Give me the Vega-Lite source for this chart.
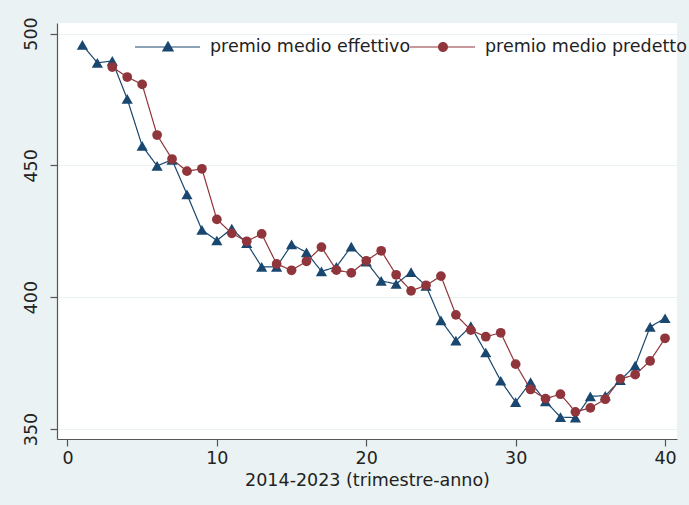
{
  "$schema": "https://vega.github.io/schema/vega-lite/v6.json",
  "width": 620,
  "height": 416,
  "autosize": {"type": "none"},
  "padding": {"left": 57, "top": 23, "right": 12, "bottom": 66},
  "background": "#EAF2F3",
  "config": {
    "view": {"fill": "white", "stroke": null},
    "font": "DejaVu Sans",
    "axis": {
      "labelFont": "DejaVu Sans",
      "titleFont": "DejaVu Sans",
      "labelFontSize": 17.5,
      "titleFontSize": 17.5,
      "titleFontWeight": "normal",
      "labelColor": "#222222",
      "titleColor": "#222222",
      "domainColor": "#555555",
      "tickColor": "#555555",
      "tickSize": 7,
      "domainWidth": 1.2,
      "tickWidth": 1.2
    },
    "legend": {
      "labelFont": "DejaVu Sans",
      "labelFontSize": 17.5,
      "labelColor": "#222222",
      "labelOffset": 32,
      "labelLimit": 400,
      "symbolSize": 400,
      "symbolStrokeWidth": 0,
      "symbolOpacity": 1
    }
  },
  "data": {
    "values": [
      {"t": 1, "v": 495.7, "serie": "premio medio effettivo"},
      {"t": 2, "v": 488.9, "serie": "premio medio effettivo"},
      {"t": 3, "v": 489.6, "serie": "premio medio effettivo"},
      {"t": 4, "v": 475.2, "serie": "premio medio effettivo"},
      {"t": 5, "v": 457.4, "serie": "premio medio effettivo"},
      {"t": 6, "v": 449.8, "serie": "premio medio effettivo"},
      {"t": 7, "v": 452.1, "serie": "premio medio effettivo"},
      {"t": 8, "v": 439.0, "serie": "premio medio effettivo"},
      {"t": 9, "v": 425.5, "serie": "premio medio effettivo"},
      {"t": 10, "v": 421.5, "serie": "premio medio effettivo"},
      {"t": 11, "v": 426.0, "serie": "premio medio effettivo"},
      {"t": 12, "v": 420.5, "serie": "premio medio effettivo"},
      {"t": 13, "v": 411.5, "serie": "premio medio effettivo"},
      {"t": 14, "v": 411.5, "serie": "premio medio effettivo"},
      {"t": 15, "v": 420.0, "serie": "premio medio effettivo"},
      {"t": 16, "v": 417.0, "serie": "premio medio effettivo"},
      {"t": 17, "v": 409.8, "serie": "premio medio effettivo"},
      {"t": 18, "v": 411.5, "serie": "premio medio effettivo"},
      {"t": 19, "v": 419.2, "serie": "premio medio effettivo"},
      {"t": 20, "v": 413.5, "serie": "premio medio effettivo"},
      {"t": 21, "v": 406.2, "serie": "premio medio effettivo"},
      {"t": 22, "v": 405.0, "serie": "premio medio effettivo"},
      {"t": 23, "v": 409.5, "serie": "premio medio effettivo"},
      {"t": 24, "v": 404.3, "serie": "premio medio effettivo"},
      {"t": 25, "v": 391.2, "serie": "premio medio effettivo"},
      {"t": 26, "v": 383.5, "serie": "premio medio effettivo"},
      {"t": 27, "v": 389.0, "serie": "premio medio effettivo"},
      {"t": 28, "v": 379.0, "serie": "premio medio effettivo"},
      {"t": 29, "v": 368.3, "serie": "premio medio effettivo"},
      {"t": 30, "v": 360.2, "serie": "premio medio effettivo"},
      {"t": 31, "v": 367.8, "serie": "premio medio effettivo"},
      {"t": 32, "v": 360.5, "serie": "premio medio effettivo"},
      {"t": 33, "v": 354.5, "serie": "premio medio effettivo"},
      {"t": 34, "v": 354.3, "serie": "premio medio effettivo"},
      {"t": 35, "v": 362.4, "serie": "premio medio effettivo"},
      {"t": 36, "v": 362.6, "serie": "premio medio effettivo"},
      {"t": 37, "v": 368.5, "serie": "premio medio effettivo"},
      {"t": 38, "v": 374.0, "serie": "premio medio effettivo"},
      {"t": 39, "v": 388.7, "serie": "premio medio effettivo"},
      {"t": 40, "v": 392.0, "serie": "premio medio effettivo"},
      {"t": 3, "v": 487.3, "serie": "premio medio predetto"},
      {"t": 4, "v": 483.5, "serie": "premio medio predetto"},
      {"t": 5, "v": 480.7, "serie": "premio medio predetto"},
      {"t": 6, "v": 461.5, "serie": "premio medio predetto"},
      {"t": 7, "v": 452.4, "serie": "premio medio predetto"},
      {"t": 8, "v": 447.8, "serie": "premio medio predetto"},
      {"t": 9, "v": 448.7, "serie": "premio medio predetto"},
      {"t": 10, "v": 429.5, "serie": "premio medio predetto"},
      {"t": 11, "v": 424.2, "serie": "premio medio predetto"},
      {"t": 12, "v": 421.2, "serie": "premio medio predetto"},
      {"t": 13, "v": 424.0, "serie": "premio medio predetto"},
      {"t": 14, "v": 412.6, "serie": "premio medio predetto"},
      {"t": 15, "v": 410.2, "serie": "premio medio predetto"},
      {"t": 16, "v": 413.6, "serie": "premio medio predetto"},
      {"t": 17, "v": 419.0, "serie": "premio medio predetto"},
      {"t": 18, "v": 410.3, "serie": "premio medio predetto"},
      {"t": 19, "v": 409.2, "serie": "premio medio predetto"},
      {"t": 20, "v": 413.8, "serie": "premio medio predetto"},
      {"t": 21, "v": 417.6, "serie": "premio medio predetto"},
      {"t": 22, "v": 408.5, "serie": "premio medio predetto"},
      {"t": 23, "v": 402.4, "serie": "premio medio predetto"},
      {"t": 24, "v": 404.5, "serie": "premio medio predetto"},
      {"t": 25, "v": 408.0, "serie": "premio medio predetto"},
      {"t": 26, "v": 393.3, "serie": "premio medio predetto"},
      {"t": 27, "v": 387.5, "serie": "premio medio predetto"},
      {"t": 28, "v": 385.0, "serie": "premio medio predetto"},
      {"t": 29, "v": 386.5, "serie": "premio medio predetto"},
      {"t": 30, "v": 374.6, "serie": "premio medio predetto"},
      {"t": 31, "v": 365.0, "serie": "premio medio predetto"},
      {"t": 32, "v": 361.5, "serie": "premio medio predetto"},
      {"t": 33, "v": 363.2, "serie": "premio medio predetto"},
      {"t": 34, "v": 356.5, "serie": "premio medio predetto"},
      {"t": 35, "v": 358.0, "serie": "premio medio predetto"},
      {"t": 36, "v": 361.3, "serie": "premio medio predetto"},
      {"t": 37, "v": 369.0, "serie": "premio medio predetto"},
      {"t": 38, "v": 370.6, "serie": "premio medio predetto"},
      {"t": 39, "v": 375.8, "serie": "premio medio predetto"},
      {"t": 40, "v": 384.4, "serie": "premio medio predetto"}
    ]
  },
  "encoding": {
    "x": {
      "field": "t",
      "type": "quantitative",
      "scale": {"domain": [-0.7, 40.8], "nice": false, "zero": false},
      "axis": {
        "values": [0, 10, 20, 30, 40],
        "title": "2014-2023 (trimestre-anno)",
        "grid": false,
        "labelPadding": 3,
        "titlePadding": 5
      }
    },
    "y": {
      "field": "v",
      "type": "quantitative",
      "scale": {"domain": [346.2, 504], "nice": false, "zero": false},
      "axis": {
        "values": [350, 400, 450, 500],
        "title": null,
        "grid": true,
        "gridColor": "#EAF2F3",
        "gridWidth": 1.2,
        "labelAngle": -90,
        "labelAlign": "center",
        "labelBaseline": "bottom",
        "labelPadding": 10
      }
    }
  },
  "layer": [
    {
      "mark": {"type": "line", "strokeWidth": 1.2},
      "encoding": {
        "color": {
          "field": "serie",
          "type": "nominal",
          "scale": {"domain": ["premio medio effettivo", "premio medio predetto"], "range": ["#1A476F", "#90353B"]},
          "legend": {
            "title": null,
            "orient": "none",
            "legendX": 101,
            "legendY": 14,
            "values": ["premio medio effettivo"],
            "symbolType": "M-3.3,-0.06L3.2,-0.06L3.2,0.06L-3.3,0.06ZM0,-0.62L0.62,0.45L-0.62,0.45Z",
            "symbolFillColor": "#1A476F",
            "symbolStrokeColor": "#1A476F",
            "symbolStrokeWidth": 0
          }
        },
        "strokeDash": {
          "field": "serie",
          "type": "nominal",
          "scale": {"domain": ["premio medio predetto", "premio medio effettivo"], "range": [[1, 0], [1, 0]]},
          "legend": {
            "title": null,
            "orient": "none",
            "legendX": 376,
            "legendY": 14,
            "values": ["premio medio predetto"],
            "symbolType": "M-3.3,-0.06L3.2,-0.06L3.2,0.06L-3.3,0.06ZM-0.5,0A0.5,0.5,0,1,1,0.5,0A0.5,0.5,0,1,1,-0.5,0Z",
            "symbolFillColor": "#90353B",
            "symbolStrokeColor": "#90353B",
            "symbolStrokeWidth": 0
          }
        }
      }
    },
    {
      "transform": [{"filter": "datum.serie == 'premio medio effettivo'"}],
      "mark": {"type": "point", "shape": "triangle-up", "filled": true, "opacity": 1, "size": 125, "color": "#1A476F"}
    },
    {
      "transform": [{"filter": "datum.serie == 'premio medio predetto'"}],
      "mark": {"type": "point", "shape": "circle", "filled": true, "opacity": 1, "size": 95, "color": "#90353B"}
    }
  ]
}
